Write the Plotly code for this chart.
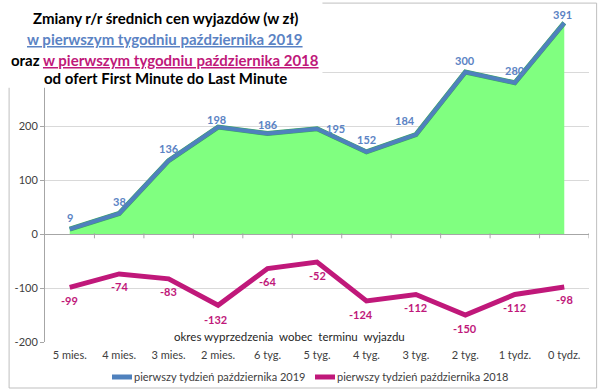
import plotly.graph_objects as go

categories = ["5 mies.", "4 mies.", "3 mies.", "2 mies.", "6 tyg.", "5 tyg.",
              "4 tyg.", "3 tyg.", "2 tyg.", "1 tydz.", "0 tydz."]
values_2019 = [9, 38, 136, 198, 186, 195, 152, 184, 300, 280, 391]
values_2018 = [-99, -74, -83, -132, -64, -52, -124, -112, -150, -112, -98]
name_2019 = "pierwszy tydzień października 2019"
name_2018 = "pierwszy tydzień października 2018"
y_tickvals = [-200, -100, 0, 100, 200, 300, 400]
y_ticktext = ["-200", "-100", "0", "100", "200", "", ""]

BLUE = "#4f81bd"
LABEL_BLUE = "#5b83c4"
MAGENTA = "#c0187a"
GREEN = "#80ff80"
FONT = "Lato"

# label offsets (styling only): index -> (xshift, yshift)
offsets_2019 = {3: (-2, 8), 4: (0, 9), 5: (18, 0), 7: (-11, 14), 10: (-2, 8)}
offsets_2018 = {3: (-3, -14), 6: (-5, -14)}

fig = go.Figure()
fig.add_trace(go.Scatter(
    x=categories, y=values_2019, mode="lines", fill="tozeroy",
    fillcolor=GREEN, line=dict(color="#3aa860", width=5),
    showlegend=False, hoverinfo="skip"))
fig.add_trace(go.Scatter(
    x=categories, y=values_2019, mode="lines", name=name_2019,
    line=dict(color=BLUE, width=4), showlegend=False))
fig.add_trace(go.Scatter(
    x=categories, y=values_2018, mode="lines", name=name_2018,
    line=dict(color=MAGENTA, width=5), showlegend=False))

annotations = []
for i, (c, v) in enumerate(zip(categories, values_2019)):
    xs, ys = offsets_2019.get(i, (0, 12))
    annotations.append(dict(
        x=c, y=v, xref="x", yref="y", text=str(v), showarrow=False,
        xshift=xs, yshift=ys,
        font=dict(color=LABEL_BLUE, size=11, family=FONT, weight="bold")))
for i, (c, v) in enumerate(zip(categories, values_2018)):
    xs, ys = offsets_2018.get(i, (0, -13))
    annotations.append(dict(
        x=c, y=v, xref="x", yref="y", text=str(v), showarrow=False,
        xshift=xs, yshift=ys,
        font=dict(color=MAGENTA, size=11, family=FONT, weight="bold")))

# category boundary ticks on the zero line
shapes = []
for k in range(len(categories)):
    shapes.append(dict(type="line", xref="x", yref="paper",
                       x0=k + 0.5, x1=k + 0.5, y0=0.336 - 0.016, y1=0.336,
                       line=dict(color="#a6a6a6", width=1)))
# outer chart border
shapes.append(dict(type="rect", xref="paper", yref="paper",
                   x0=-0.066, x1=1.014, y0=-0.142, y1=1.046,
                   line=dict(color="#bfbfbf", width=1), layer="below"))
# title box
shapes.append(dict(type="rect", xref="paper", yref="paper",
                   x0=-0.09, x1=0.51, y0=0.785, y1=1.06,
                   fillcolor="white", line=dict(width=0), layer="above"))
# legend swatches
for (x0, x1, col) in [(0.1232, 0.1599, BLUE), (0.4963, 0.5331, MAGENTA)]:
    shapes.append(dict(type="line", xref="paper", yref="paper",
                       x0=x0, x1=x1, y0=-0.108, y1=-0.108,
                       line=dict(color=col, width=5)))
fig.update_layout(shapes=shapes)

for x, name in [(0.1599, name_2019), (0.5331, name_2018)]:
    annotations.append(dict(
        xref="paper", yref="paper", x=x, y=-0.108, xanchor="left",
        yanchor="middle", showarrow=False, text=name,
        font=dict(color="#404040", size=11, family=FONT)))

ann = [
    dict(text="<b>Zmiany r/r średnich cen wyjazdów (w zł)</b>", y=1.0),
    dict(text="<b><u>w pierwszym tygodniu października 2019</u></b>", y=0.934,
         font=dict(color=LABEL_BLUE, size=15, family=FONT)),
    dict(text="<b>oraz <span style='color:" + MAGENTA + "'><u>w pierwszym tygodniu października 2018</u></span></b>",
         y=0.870),
    dict(text="<b>od ofert First Minute do Last Minute</b>", y=0.815),
]
for a in ann:
    d = dict(xref="paper", yref="paper", x=0.2206, xanchor="center",
             yanchor="middle", showarrow=False,
             font=dict(color="#000000", size=15, family=FONT))
    d.update(a)
    annotations.append(d)
annotations.append(dict(
    xref="paper", yref="paper", x=0.45, y=0.018, xanchor="center",
    yanchor="middle", showarrow=False,
    text="okres wyprzedzenia&nbsp; wobec&nbsp; terminu&nbsp; wyjazdu",
    font=dict(color="#262626", size=11.5, family=FONT)))
fig.update_layout(annotations=annotations)

fig.update_layout(
    width=600, height=391,
    margin=dict(l=45, r=11, t=18, b=49),
    paper_bgcolor="white", plot_bgcolor="white",
    font=dict(family=FONT, size=11, color="#404040"),
    xaxis=dict(type="category", showgrid=False, showline=False, ticks="",
               tickfont=dict(size=11, color="#404040"), automargin=False,
               ticklabelstandoff=5,
               range=[-0.5, len(categories) - 0.5], zeroline=False),
    yaxis=dict(range=[-200, 400], tickvals=y_tickvals, ticktext=y_ticktext,
               showgrid=True, gridcolor="#d9d9d9", gridwidth=1,
               zeroline=True, zerolinecolor="#a6a6a6", zerolinewidth=1,
               showline=True, linecolor="#a6a6a6", linewidth=1,
               ticks="outside", ticklen=4, tickcolor="#a6a6a6",
               automargin=False,
               tickfont=dict(size=11, color="#404040")),
    showlegend=False,
)

fig.write_html("out.html", config={"displayModeBar": False},
               post_script="document.body.style.margin='0';")
